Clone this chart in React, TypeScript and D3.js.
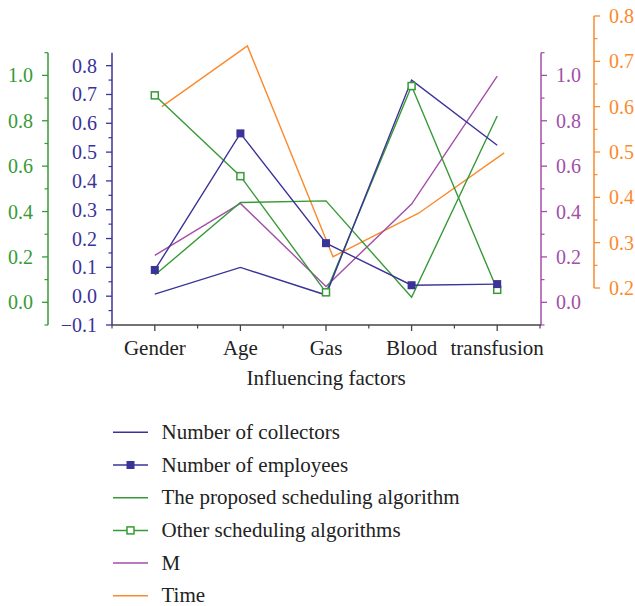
import { useEffect, useRef } from "react";
import * as d3 from "d3";

const factors = ["Gender", "Age", "Gas", "Blood", "transfusion"];

const collectors = [0.007, 0.1, 0.004, 0.75, 0.524];
const employees = [0.091, 0.565, 0.184, 0.038, 0.042];
const proposed = [0.12, 0.44, 0.447, 0.022, 0.821];
const others = [0.912, 0.556, 0.044, 0.953, 0.055];
const mValues = [0.207, 0.436, 0.07, 0.433, 0.997];
const timeValues = [0.6, 0.734, 0.269, 0.365, 0.498];

const blueTicks = [-0.1, 0, 0.1, 0.2, 0.3, 0.4, 0.5, 0.6, 0.7, 0.8];
const greenTicks = [0, 0.2, 0.4, 0.6, 0.8, 1.0];
const purpleTicks = [0, 0.2, 0.4, 0.6, 0.8, 1.0];
const orangeTicks = [0.2, 0.3, 0.4, 0.5, 0.6, 0.7, 0.8];

const BLUE = "#3a3398";
const GREEN = "#379a37";
const PURPLE = "#a24fa9";
const ORANGE = "#fb8a2c";
const FONT = "'Liberation Serif', 'DejaVu Serif', serif";

const legendItems = [
  { label: "Number of collectors", color: BLUE, marker: "none" },
  { label: "Number of employees", color: BLUE, marker: "filled" },
  { label: "The proposed scheduling algorithm", color: GREEN, marker: "none" },
  { label: "Other scheduling algorithms", color: GREEN, marker: "open" },
  { label: "M", color: PURPLE, marker: "none" },
  { label: "Time", color: ORANGE, marker: "none" },
];

export default function App() {
  const ref = useRef<SVGSVGElement>(null);

  useEffect(() => {
    const svg = d3.select(ref.current);
    svg.selectAll("*").remove();

    const left = 112;
    const right = 540;
    const bottom = 325;
    const top = 52.7;

    const x = d3.scalePoint<string>().domain(factors).range([left, right]).padding(0.5);
    // the Time layer sits a few pixels to the right in the original
    const xTime = d3.scalePoint<string>().domain(factors).range([left + 7, right + 7]).padding(0.5);

    const yBlue = d3.scaleLinear().domain([-0.1, 0.845]).range([bottom, top]);
    const yGreen = d3.scaleLinear().domain([-0.1, 1.1]).range([bottom, top]);
    const yPurple = d3.scaleLinear().domain([-0.1, 1.1]).range([bottom, top]);
    const yOrange = d3.scaleLinear().domain([0.2, 0.8]).range([288, 16]);

    // vertical axes
    const drawAxis = (
      xPos: number,
      scale: d3.ScaleLinear<number, number>,
      ticks: number[],
      minor: number[],
      color: string,
      side: "left" | "right",
      ext: [number, number]
    ) => {
      const g = svg.append("g");
      const dir = side === "left" ? -1 : 1;
      g.append("line")
        .attr("x1", xPos).attr("x2", xPos)
        .attr("y1", ext[0]).attr("y2", ext[1])
        .attr("stroke", color).attr("stroke-width", 1.5);
      g.selectAll("line.major")
        .data(ticks)
        .join("line")
        .attr("class", "major")
        .attr("x1", xPos).attr("x2", xPos + dir * 6)
        .attr("y1", (d) => scale(d)).attr("y2", (d) => scale(d))
        .attr("stroke", color).attr("stroke-width", 1.3);
      g.selectAll("line.minor")
        .data(minor)
        .join("line")
        .attr("class", "minor")
        .attr("x1", xPos).attr("x2", xPos + dir * 3.5)
        .attr("y1", (d) => scale(d)).attr("y2", (d) => scale(d))
        .attr("stroke", color).attr("stroke-width", 1.2);
      g.selectAll("text")
        .data(ticks)
        .join("text")
        .attr("x", xPos + dir * 15)
        .attr("y", (d) => scale(d))
        .attr("dy", "0.35em")
        .attr("text-anchor", side === "left" ? "end" : "start")
        .attr("fill", color)
        .attr("font-family", FONT)
        .attr("font-size", 20)
        .text((d) => (d < 0 ? "\u2212" + d3.format(".1f")(-d) : d3.format(".1f")(d)));
    };

    drawAxis(48, yGreen, greenTicks, d3.range(-0.1, 1.15, 0.2), GREEN, "left", [top, bottom]);
    drawAxis(left, yBlue, blueTicks, d3.range(-0.05, 0.85, 0.1), BLUE, "left", [top, bottom]);
    drawAxis(right + 1, yPurple, purpleTicks, d3.range(-0.1, 1.15, 0.2), PURPLE, "right", [top, bottom]);
    drawAxis(594, yOrange, orangeTicks, d3.range(0.25, 0.8, 0.1), ORANGE, "right", [288, 16]);

    // x axis
    const xa = svg.append("g");
    xa.append("line")
      .attr("x1", left).attr("x2", right + 1)
      .attr("y1", bottom).attr("y2", bottom)
      .attr("stroke", "#444").attr("stroke-width", 1.5);
    const step = x.step();
    const minorX = [left, ...factors.slice(1).map((f) => (x(f) as number) - step / 2), right];
    xa.selectAll("line.major")
      .data(factors)
      .join("line")
      .attr("class", "major")
      .attr("x1", (d) => x(d) as number).attr("x2", (d) => x(d) as number)
      .attr("y1", bottom).attr("y2", bottom + 6)
      .attr("stroke", "#444").attr("stroke-width", 1.3);
    xa.selectAll("line.minor")
      .data(minorX)
      .join("line")
      .attr("class", "minor")
      .attr("x1", (d) => d).attr("x2", (d) => d)
      .attr("y1", bottom).attr("y2", bottom + 3.5)
      .attr("stroke", "#444").attr("stroke-width", 1.2);
    xa.selectAll("text")
      .data(factors)
      .join("text")
      .attr("x", (d) => x(d) as number)
      .attr("y", 355)
      .attr("text-anchor", "middle")
      .attr("fill", "#222")
      .attr("font-family", FONT)
      .attr("font-size", 21)
      .text((d) => d);
    svg.append("text")
      .attr("x", (left + right) / 2)
      .attr("y", 385)
      .attr("text-anchor", "middle")
      .attr("fill", "#222")
      .attr("font-family", FONT)
      .attr("font-size", 21)
      .text("Influencing factors");

    // series
    const drawLine = (
      vals: number[],
      xs: d3.ScalePoint<string>,
      ys: d3.ScaleLinear<number, number>,
      color: string
    ) => {
      const line = d3
        .line<number>()
        .x((_, i) => xs(factors[i]) as number)
        .y((d) => ys(d));
      svg.append("path")
        .datum(vals)
        .attr("fill", "none")
        .attr("stroke", color)
        .attr("stroke-width", 1.4)
        .attr("d", line);
    };

    drawLine(timeValues, xTime, yOrange, ORANGE);
    drawLine(mValues, x, yPurple, PURPLE);
    drawLine(proposed, x, yGreen, GREEN);
    drawLine(others, x, yGreen, GREEN);
    drawLine(collectors, x, yBlue, BLUE);
    drawLine(employees, x, yBlue, BLUE);

    svg.append("g")
      .selectAll("rect")
      .data(others)
      .join("rect")
      .attr("x", (_, i) => (x(factors[i]) as number) - 3.5)
      .attr("y", (d) => yGreen(d) - 3.5)
      .attr("width", 7).attr("height", 7)
      .attr("fill", "white")
      .attr("stroke", GREEN).attr("stroke-width", 1.5);
    svg.append("g")
      .selectAll("rect")
      .data(employees)
      .join("rect")
      .attr("x", (_, i) => (x(factors[i]) as number) - 4)
      .attr("y", (d) => yBlue(d) - 4)
      .attr("width", 8).attr("height", 8)
      .attr("fill", BLUE);

    // legend
    const lg = svg.append("g");
    const rowY = (i: number) => 432.3 + i * 32.7;
    legendItems.forEach((item, i) => {
      const y = rowY(i);
      lg.append("line")
        .attr("x1", 113).attr("x2", 148)
        .attr("y1", y).attr("y2", y)
        .attr("stroke", item.color).attr("stroke-width", 1.5);
      if (item.marker === "filled") {
        lg.append("rect")
          .attr("x", 126.5).attr("y", y - 4)
          .attr("width", 8).attr("height", 8)
          .attr("fill", item.color);
      } else if (item.marker === "open") {
        lg.append("rect")
          .attr("x", 127).attr("y", y - 3.5)
          .attr("width", 7).attr("height", 7)
          .attr("fill", "white")
          .attr("stroke", item.color).attr("stroke-width", 1.5);
      }
      lg.append("text")
        .attr("x", 161.5)
        .attr("y", y + 6.5)
        .attr("fill", "#222")
        .attr("font-family", FONT)
        .attr("font-size", 21)
        .text(item.label);
    });
  }, []);

  return (
    <svg
      ref={ref}
      width={635}
      height={606}
      style={{ position: "absolute", left: 0, top: 0, background: "white" }}
    />
  );
}
